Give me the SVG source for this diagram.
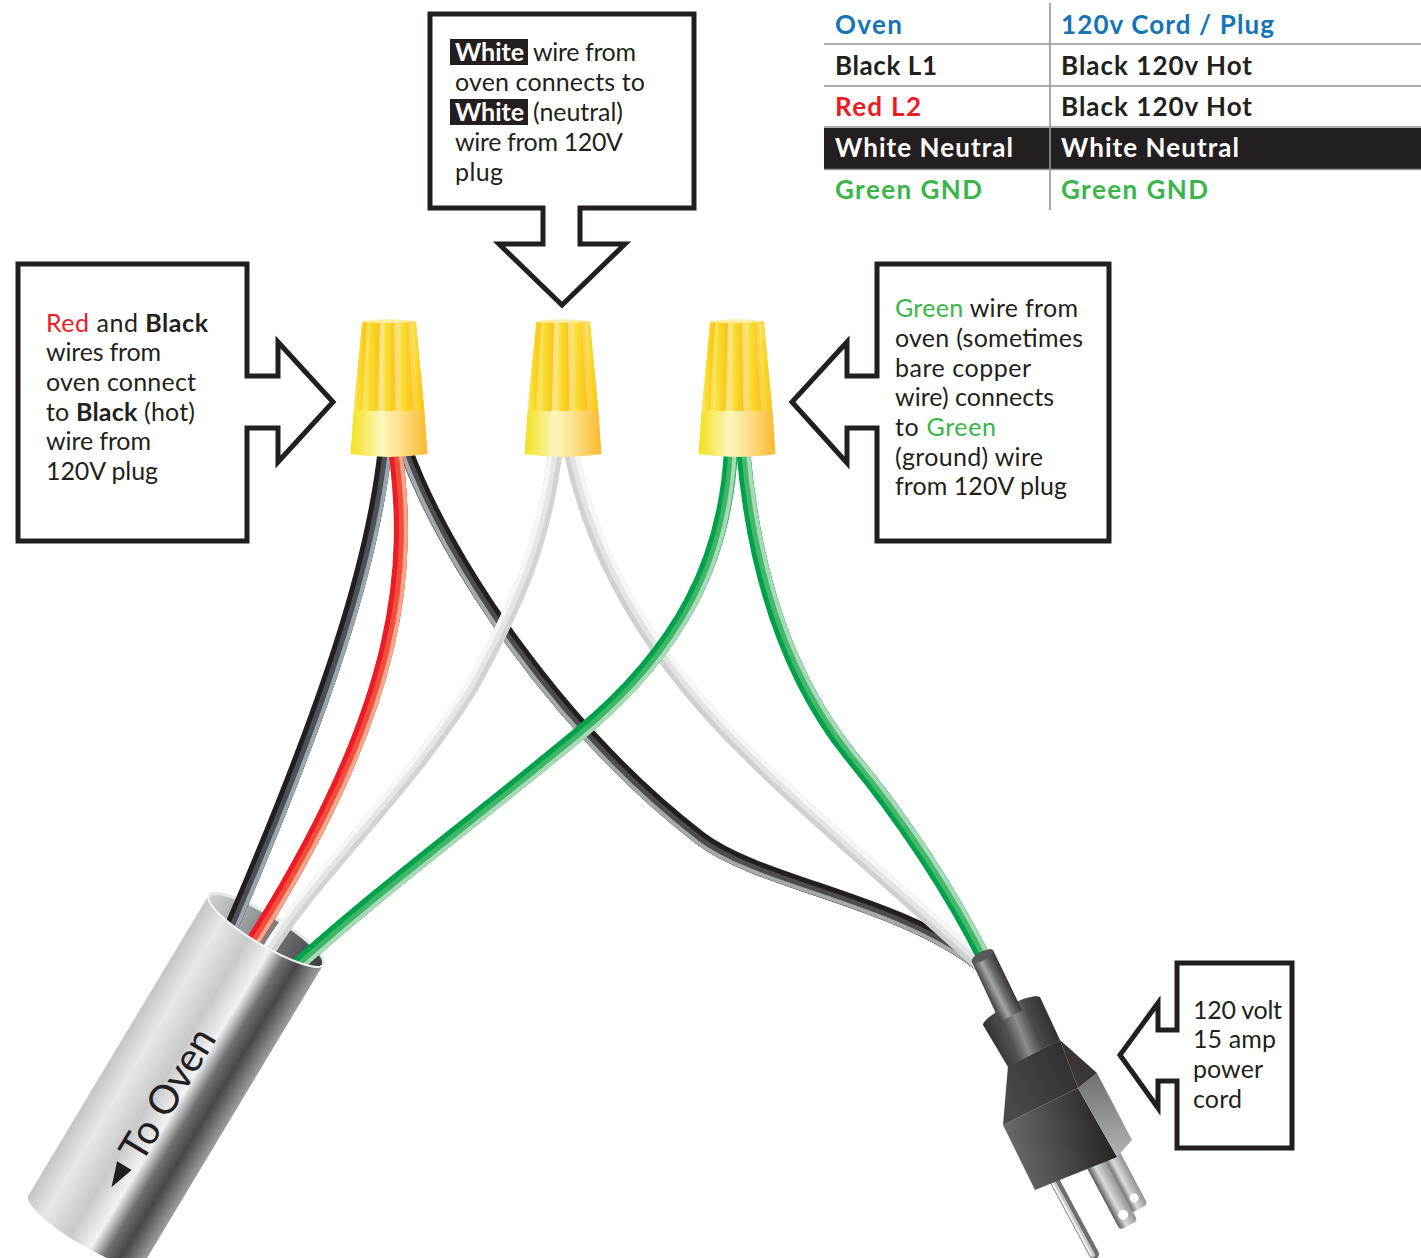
<svg xmlns="http://www.w3.org/2000/svg" width="1421" height="1258" viewBox="0 0 1421 1258">
<defs>
<style>
.t{font-family:Lato,"Open Sans","Liberation Sans",sans-serif;}
.hd{font-weight:700;font-size:26px;}
.bd{font-size:25px;fill:#231f20;}
.b{font-weight:700;}
.call{fill:#fff;stroke:#231f20;stroke-width:5;stroke-linejoin:miter;stroke-miterlimit:10;}
.tl{stroke:#939598;stroke-width:1.6;fill:none;}
.w{fill:none;stroke-linecap:butt;}
.w0{stroke-width:14;}
.w1{stroke-width:9;}
.w2{stroke-width:4;}
.red{fill:#ed1c24;}
.grn{fill:#39b54a;}
.blu{fill:#1474b8;}
.blk{fill:#231f20;}
.wht{fill:#ffffff;}
</style>
<linearGradient id="gSk" x1="0" y1="0" x2="1" y2="0">
<stop offset="0" stop-color="#f4e11c"/><stop offset="0.4" stop-color="#fbf6bc"/><stop offset="0.65" stop-color="#fde08a"/><stop offset="1" stop-color="#fbb92d"/>
</linearGradient>
<linearGradient id="gNb" x1="0" y1="0" x2="1" y2="0">
<stop offset="0" stop-color="#f8df30"/><stop offset="0.45" stop-color="#fde68f"/><stop offset="1" stop-color="#fcc73c"/>
</linearGradient>
<linearGradient id="gRib" x1="0" y1="0" x2="1" y2="0">
<stop offset="0" stop-color="#fbe87a"/><stop offset="0.35" stop-color="#f9dc2c"/><stop offset="1" stop-color="#fdc21c"/>
</linearGradient>
<linearGradient id="gTube" gradientUnits="userSpaceOnUse" x1="-67" y1="0" x2="67" y2="0">
<stop offset="0" stop-color="#c2c4c6"/><stop offset="0.18" stop-color="#e6e7e8"/><stop offset="0.42" stop-color="#c8c9cb"/><stop offset="0.6" stop-color="#f2f2f2"/><stop offset="0.72" stop-color="#6f7072"/><stop offset="0.83" stop-color="#47474a"/><stop offset="1" stop-color="#9d9ea0"/>
</linearGradient>
<linearGradient id="gIn" x1="0" y1="0" x2="1" y2="0">
<stop offset="0" stop-color="#d1d3d4"/><stop offset="0.5" stop-color="#808285"/><stop offset="1" stop-color="#3c3c3e"/>
</linearGradient>
<linearGradient id="gCord" gradientUnits="userSpaceOnUse" x1="970" y1="962" x2="996" y2="949">
<stop offset="0" stop-color="#3a3a3c"/><stop offset="0.35" stop-color="#a3a5a8"/><stop offset="0.55" stop-color="#6d6e71"/><stop offset="1" stop-color="#231f20"/>
</linearGradient>
<linearGradient id="gCol" gradientUnits="userSpaceOnUse" x1="983" y1="1035" x2="1058" y2="1005">
<stop offset="0" stop-color="#2b2b2d"/><stop offset="0.3" stop-color="#515254"/><stop offset="0.45" stop-color="#8a8c8e"/><stop offset="0.62" stop-color="#4a4a4c"/><stop offset="1" stop-color="#231f20"/>
</linearGradient>
<linearGradient id="gBodyL" gradientUnits="userSpaceOnUse" x1="1003" y1="1150" x2="1117" y2="1125">
<stop offset="0" stop-color="#6d6e71"/><stop offset="1" stop-color="#231f20"/>
</linearGradient>
<linearGradient id="gBodyU" gradientUnits="userSpaceOnUse" x1="1003" y1="1100" x2="1078" y2="1060">
<stop offset="0" stop-color="#4a4a4c"/><stop offset="1" stop-color="#2f2f31"/>
</linearGradient>
<linearGradient id="gFace" x1="0" y1="0" x2="0" y2="1">
<stop offset="0" stop-color="#6f7073"/><stop offset="1" stop-color="#b1b3b6"/>
</linearGradient>
<linearGradient id="gBlade" x1="0" y1="0" x2="1" y2="0">
<stop offset="0" stop-color="#58595b"/><stop offset="0.4" stop-color="#d9dadb"/><stop offset="1" stop-color="#8f9194"/>
</linearGradient>
<path id="pBk1" d="M385,448 C373,560 330,700 222,948"/>
<path id="pRed" d="M395,448 C410,560 408,700 246,952"/>
<path id="pBk2" d="M405,448 C445,560 560,730 700,838 C760,884 900,900 982,966"/>
<path id="pWh1" d="M556,448 C545,540 520,600 470,690 C400,800 310,880 266,955"/>
<path id="pWh2" d="M570,448 C592,560 650,650 720,725 C790,800 900,890 982,966"/>
<path id="pGr1" d="M731,448 C726,560 680,650 580,733 C480,816 380,890 296,966"/>
<path id="pGr2" d="M743,448 C754,580 790,680 850,755 C900,815 950,890 986,962"/>
<g id="nutShape">
<path d="M-27,1.5 Q0,-2.5 27,1.5 L35.5,92 L-35.5,92 Z" fill="url(#gNb)"/>
<path d="M-26.5,3 L-35,88 A4,4 0 0 0 -27,88 L-22,3 Z" fill="url(#gRib)"/>
<path d="M-19,3 L-24,88 A6.5,6.5 0 0 0 -11,88 L-9,3 Z" fill="url(#gRib)"/>
<path d="M-5,3 L-6.5,88 A6.5,6.5 0 0 0 6.5,88 L5,3 Z" fill="url(#gRib)"/>
<path d="M9,3 L11,88 A6.5,6.5 0 0 0 24,88 L19,3 Z" fill="url(#gRib)"/>
<path d="M22,3 L27,88 A4,4 0 0 0 35,88 L26.5,3 Z" fill="url(#gRib)"/>
<path d="M-27,1.5 Q0,-2.5 27,1.5 Q0,4 -27,1.5 Z" fill="#fcefa6"/>
<path d="M-35.5,91 L35.5,91 L38.5,134 Q0,140 -38.5,134 Z" fill="url(#gSk)"/>
</g>
</defs>

<rect x="0" y="0" width="1421" height="1258" fill="#ffffff"/>

<g id="table">
<rect x="824" y="128" width="597" height="41" fill="#231f20"/>
<line class="tl" x1="824" y1="44" x2="1421" y2="44"/>
<line class="tl" x1="824" y1="86" x2="1421" y2="86"/>
<line class="tl" x1="824" y1="127" x2="1421" y2="127"/>
<line class="tl" x1="824" y1="169.5" x2="1421" y2="169.5"/>
<line class="tl" x1="1050" y1="3" x2="1050" y2="210"/>
<text class="t hd blu" x="835" y="34" textLength="67">Oven</text>
<text class="t hd blu" x="1061" y="34" textLength="213">120v Cord / Plug</text>
<text class="t hd blk" x="835" y="75" textLength="102">Black L1</text>
<text class="t hd blk" x="1061" y="75" textLength="191">Black 120v Hot</text>
<text class="t hd red" x="835" y="116" textLength="86">Red L2</text>
<text class="t hd blk" x="1061" y="116" textLength="191">Black 120v Hot</text>
<text class="t hd wht" x="835" y="157" textLength="178">White Neutral</text>
<text class="t hd wht" x="1061" y="157" textLength="178">White Neutral</text>
<text class="t hd grn" x="835" y="199" textLength="147">Green GND</text>
<text class="t hd grn" x="1061" y="199" textLength="147">Green GND</text>
</g>

<g id="callout-white">
<path class="call" d="M430,14 L694,14 L694,208 L580,208 L580,244 L625,244 L562,305 L499,244 L543,244 L543,208 L430,208 Z"/>
<rect x="450" y="39" width="78" height="26" fill="#231f20"/>
<text class="t bd b wht" x="455" y="61" textLength="69">White</text>
<text class="t bd" x="533" y="61" textLength="103">wire from</text>
<text class="t bd" x="455" y="91" textLength="190">oven connects to</text>
<rect x="450" y="99" width="78" height="26" fill="#231f20"/>
<text class="t bd b wht" x="455" y="121" textLength="69">White</text>
<text class="t bd" x="533" y="121" textLength="90">(neutral)</text>
<text class="t bd" x="455" y="151" textLength="168">wire from 120V</text>
<text class="t bd" x="455" y="181" textLength="48">plug</text>
</g>

<g id="callout-hot">
<path class="call" d="M18,264 L247,264 L247,376 L278,376 L278,342 L333,402 L278,462 L278,428 L247,428 L247,541 L18,541 Z"/>
<text class="t bd" x="46" y="332" textLength="162"><tspan class="red">Red</tspan> and <tspan class="b">Black</tspan></text>
<text class="t bd" x="46" y="361" textLength="115">wires from</text>
<text class="t bd" x="46" y="391" textLength="150">oven connect</text>
<text class="t bd" x="46" y="421" textLength="149">to <tspan class="b">Black</tspan> (hot)</text>
<text class="t bd" x="46" y="450" textLength="105">wire from</text>
<text class="t bd" x="46" y="480" textLength="112">120V plug</text>
</g>

<g id="callout-ground">
<path class="call" d="M877,264 L1109,264 L1109,541 L877,541 L877,428 L847,428 L847,463 L792,402 L847,342 L847,376 L877,376 Z"/>
<text class="t bd" x="895" y="317" textLength="183"><tspan class="grn">Green</tspan> wire from</text>
<text class="t bd" x="895" y="347" textLength="188">oven (sometimes</text>
<text class="t bd" x="895" y="377" textLength="136">bare copper</text>
<text class="t bd" x="895" y="406" textLength="159">wire) connects</text>
<text class="t bd" x="895" y="436" textLength="101">to <tspan class="grn">Green</tspan></text>
<text class="t bd" x="895" y="466" textLength="148">(ground) wire</text>
<text class="t bd" x="895" y="495" textLength="172">from 120V plug</text>
</g>

<g id="callout-cord">
<path class="call" d="M1177,963 L1292,963 L1292,1148 L1177,1148 L1177,1081 L1158,1081 L1158,1108 L1120,1055 L1158,1003 L1158,1030 L1177,1030 Z"/>
<text class="t bd" x="1193" y="1019" textLength="89">120 volt</text>
<text class="t bd" x="1193" y="1048" textLength="83">15 amp</text>
<text class="t bd" x="1193" y="1078" textLength="70">power</text>
<text class="t bd" x="1193" y="1108" textLength="49">cord</text>
</g>

<g id="conduit-opening" transform="translate(266,930) rotate(31)">
<ellipse cx="0" cy="0" rx="66" ry="15" fill="url(#gIn)"/>
<path d="M-66.5,0 A66.5,15 0 0 1 66.5,0" fill="none" stroke="#e6e7e8" stroke-width="3"/>
</g>

<g id="connectors">
<g id="wire-black-plug">
<use href="#pBk2" class="w w0" stroke="#231f20"/>
<use href="#pBk2" class="w w1" stroke="#4d4d4f" transform="translate(-1.5,2)"/>
<use href="#pBk2" class="w w2" stroke="#a7a9ac" transform="translate(-3,4)"/>
</g>
<g id="wire-white-plug">
<use href="#pWh2" class="w w0" stroke="#cfd0d2"/>
<use href="#pWh2" class="w w1" stroke="#e3e4e5" transform="translate(2.2,-1.2)"/>
<use href="#pWh2" class="w w2" stroke="#f6f6f7" transform="translate(4.4,-2.4)"/>
</g>
<g id="wire-white-oven">
<use href="#pWh1" class="w w0" stroke="#d2d3d5"/>
<use href="#pWh1" class="w w1" stroke="#e4e5e6" transform="translate(-2.2,-1.2)"/>
<use href="#pWh1" class="w w2" stroke="#f6f6f7" transform="translate(-4.4,-2.4)"/>
</g>
<g id="wire-green-oven">
<use href="#pGr1" class="w w0" stroke="#00a14b"/>
<use href="#pGr1" class="w w1" stroke="#3fb56a" transform="translate(1.8,1.8)"/>
<use href="#pGr1" class="w w2" stroke="#a8dab5" transform="translate(3.6,3.6)"/>
</g>
<g id="wire-green-plug">
<use href="#pGr2" class="w w0" stroke="#00a14b"/>
<use href="#pGr2" class="w w1" stroke="#45b86e" transform="translate(2.2,-1)"/>
<use href="#pGr2" class="w w2" stroke="#a8dab5" transform="translate(4.4,-2)"/>
</g>
<g id="wire-black-oven">
<use href="#pBk1" class="w w0" stroke="#231f20"/>
<use href="#pBk1" class="w w1" stroke="#4b5256" transform="translate(2.5,0.5)"/>
<use href="#pBk1" class="w w2" stroke="#9aa6ad" transform="translate(5,1)"/>
</g>
<g id="wire-red-oven">
<use href="#pRed" class="w w0" stroke="#ed1c24"/>
<use href="#pRed" class="w w1" stroke="#f04e3e" transform="translate(2.5,0.5)"/>
<use href="#pRed" class="w w2" stroke="#f8a68a" transform="translate(5,1)"/>
</g>
</g>

<g id="nut-1" transform="translate(389,320)"><use href="#nutShape"/></g>
<g id="nut-2" transform="translate(563,320)"><use href="#nutShape"/></g>
<g id="nut-3" transform="translate(737,320)"><use href="#nutShape"/></g>

<g id="conduit" transform="translate(266,930) rotate(31)">
<path d="M-67,0 A67,15 0 0 0 67,0 L67,350 A67,15 0 0 1 -67,350 Z" fill="url(#gTube)"/>
<path d="M-67,0 A67,15 0 0 0 67,0" fill="none" stroke="#f4f4f4" stroke-width="2"/>
<polygon points="0,300 -8.5,275 8.5,275" fill="#231f20"/>
<text class="t" x="0" y="0" transform="translate(14,265) rotate(-90)" font-size="40" fill="#231f20" textLength="147">To Oven</text>
</g>

<g id="plug">
<line x1="1052" y1="1176" x2="1094" y2="1254" stroke="#6d6e71" stroke-width="10" stroke-linecap="round"/>
<line x1="1050.5" y1="1177" x2="1092.5" y2="1255" stroke="#c4c6c8" stroke-width="5" stroke-linecap="round"/>
<line x1="1049.5" y1="1177.5" x2="1091.5" y2="1255.5" stroke="#f1f1f2" stroke-width="2"/>
<g transform="translate(1106,1145) rotate(-28)">
<rect x="-9" y="0" width="18" height="72" rx="4" fill="url(#gBlade)"/>
<circle cx="0" cy="60" r="4.5" fill="#ffffff"/>
</g>
<g transform="translate(1094,1160) rotate(-28)">
<rect x="-10" y="0" width="20" height="74" rx="4" fill="url(#gBlade)"/>
<circle cx="0" cy="62" r="5" fill="#ffffff"/>
</g>
<polygon points="1003,1125 1078,1088 1117,1157 1035,1190" fill="url(#gBodyL)"/>
<polygon points="1078,1088 1097,1073 1132,1140 1117,1157" fill="url(#gFace)"/>
<polygon points="1008,1066 1060,1040 1078,1088 1003,1125" fill="url(#gBodyU)"/>
<polygon points="1060,1040 1097,1073 1078,1088" fill="#3b3536"/>
<path d="M983,1025 C983,1016 1030,992 1040,997 L1060,1040 L1008,1067 Z" fill="url(#gCol)"/>
<polygon points="972,962 993,950 1022,1010 1000,1022" fill="url(#gCord)"/>
<ellipse cx="982.5" cy="956" rx="12" ry="4.5" transform="rotate(-28 982.5 956)" fill="#58595b"/>
</g>
</svg>
